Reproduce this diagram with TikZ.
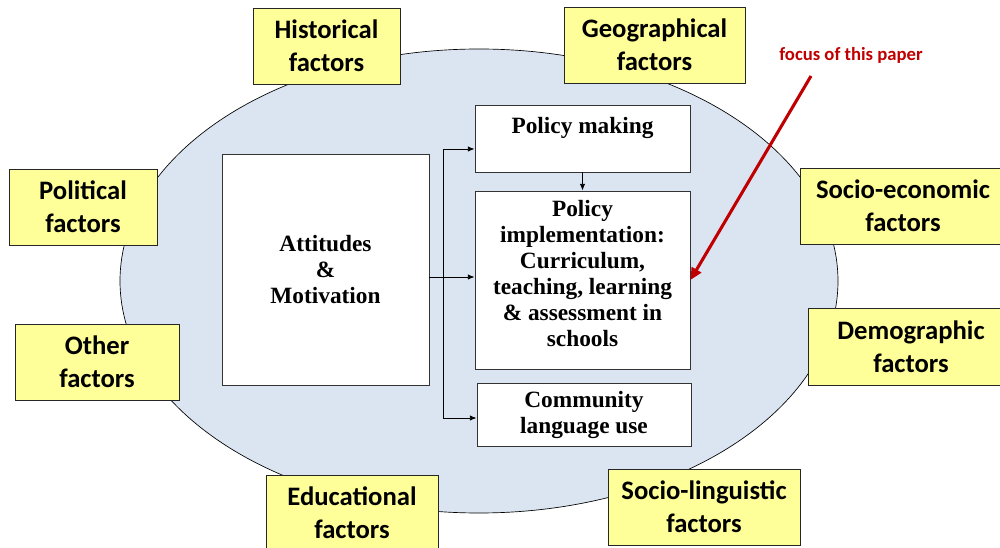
\documentclass[tikz,border=0pt]{standalone}
\usepackage{fontspec}
\newfontfamily\labelfont{Carlito}
\newfontfamily\boxfont{Liberation Serif}
\usetikzlibrary{arrows.meta}

\definecolor{ovalblue}{RGB}{219,228,241}
\definecolor{factoryellow}{RGB}{255,255,153}
\definecolor{focusred}{RGB}{192,0,0}

\tikzset{
  factor/.style={draw=black!85, fill=factoryellow, line width=0.6pt, align=center,
    font=\labelfont\bfseries\fontsize{20}{24.75}\selectfont},
  inner/.style={draw=black!80, fill=white, line width=0.7pt, align=center,
    font=\boxfont\bfseries\fontsize{17.5}{19.5}\selectfont},
  link/.style={-{Latex[length=5pt,width=4pt]}, line width=0.6pt}
}

\begin{document}
\begin{tikzpicture}[x=0.75pt,y=-0.75pt]
\clip (0,0) rectangle (1000,548);

% The oval behind everything
\fill[ovalblue] (479,281) ellipse [x radius=269.25pt, y radius=174pt];
\draw[line width=0.5pt] (479,281) ellipse [x radius=269.25pt, y radius=174pt];

% Factors round the oval
\node[factor, minimum width=110.25pt, minimum height=57pt] (hist) at (326.5,46) {Historical\\factors};
\node[factor, minimum width=135.75pt, minimum height=57pt] (geo) at (654.5,45) {Geographical\\factors};
\node[factor, minimum width=111pt, minimum height=57pt] (pol) at (83,207) {Political\\factors};
\node[factor, minimum width=123pt, minimum height=57pt] (oth) at (97,362) {Other\\factors};
\node[factor, minimum width=129pt, minimum height=57pt] (edu) at (352,513) {Educational\\factors};
\node[factor, minimum width=144pt, minimum height=57pt] (soling) at (704,507) {Socio-linguistic\\factors};
\node[factor, minimum width=154.5pt, minimum height=57pt] (soeco) at (903,206) {Socio-economic\\factors};
\node[factor, minimum width=154.5pt, minimum height=57.75pt] (demo) at (911,346.5) {Demographic\\factors};

% Boxes inside the oval
\node[inner, minimum width=155.25pt, minimum height=173.25pt] (att) at (325.5,269.5) {Attitudes\\\&\\Motivation};
\node[inner, minimum width=161.25pt, minimum height=50.25pt] (pm) at (582.5,138.5) {Policy making\\~};
\node[inner, minimum width=161.25pt, minimum height=133.5pt] (impl) at (582.5,280)
  {Policy\\implementation:\\Curriculum,\\teaching, learning\\\& assessment in\\schools\\[-10pt]~};
\node[inner, minimum width=160.5pt, minimum height=47.25pt] (comm) at (584,414.5) {Community\\language use};

% Arrows from attitudes
\coordinate (ttop) at (443,149);
\coordinate (tbot) at (443,418);
\draw[link] (att.east |- 0,277) -- (impl.west |- 0,277);
\draw[link] (tbot) -- (ttop) -- (ttop -| pm.west);
\draw[link] (tbot) -- (tbot -| comm.west);
\draw[link] (pm.south) -- (impl.north);

% Focus of this paper
\node[text=focusred, font=\labelfont\bfseries\fontsize{14}{16}\selectfont] (focus) at (851,55) {focus of this paper};
\coordinate (ftail) at (811,76);
\draw[focusred, line width=2.3pt, -{Triangle[length=9pt,width=8pt]}] (ftail) -- (impl.east);

\end{tikzpicture}
\end{document}
